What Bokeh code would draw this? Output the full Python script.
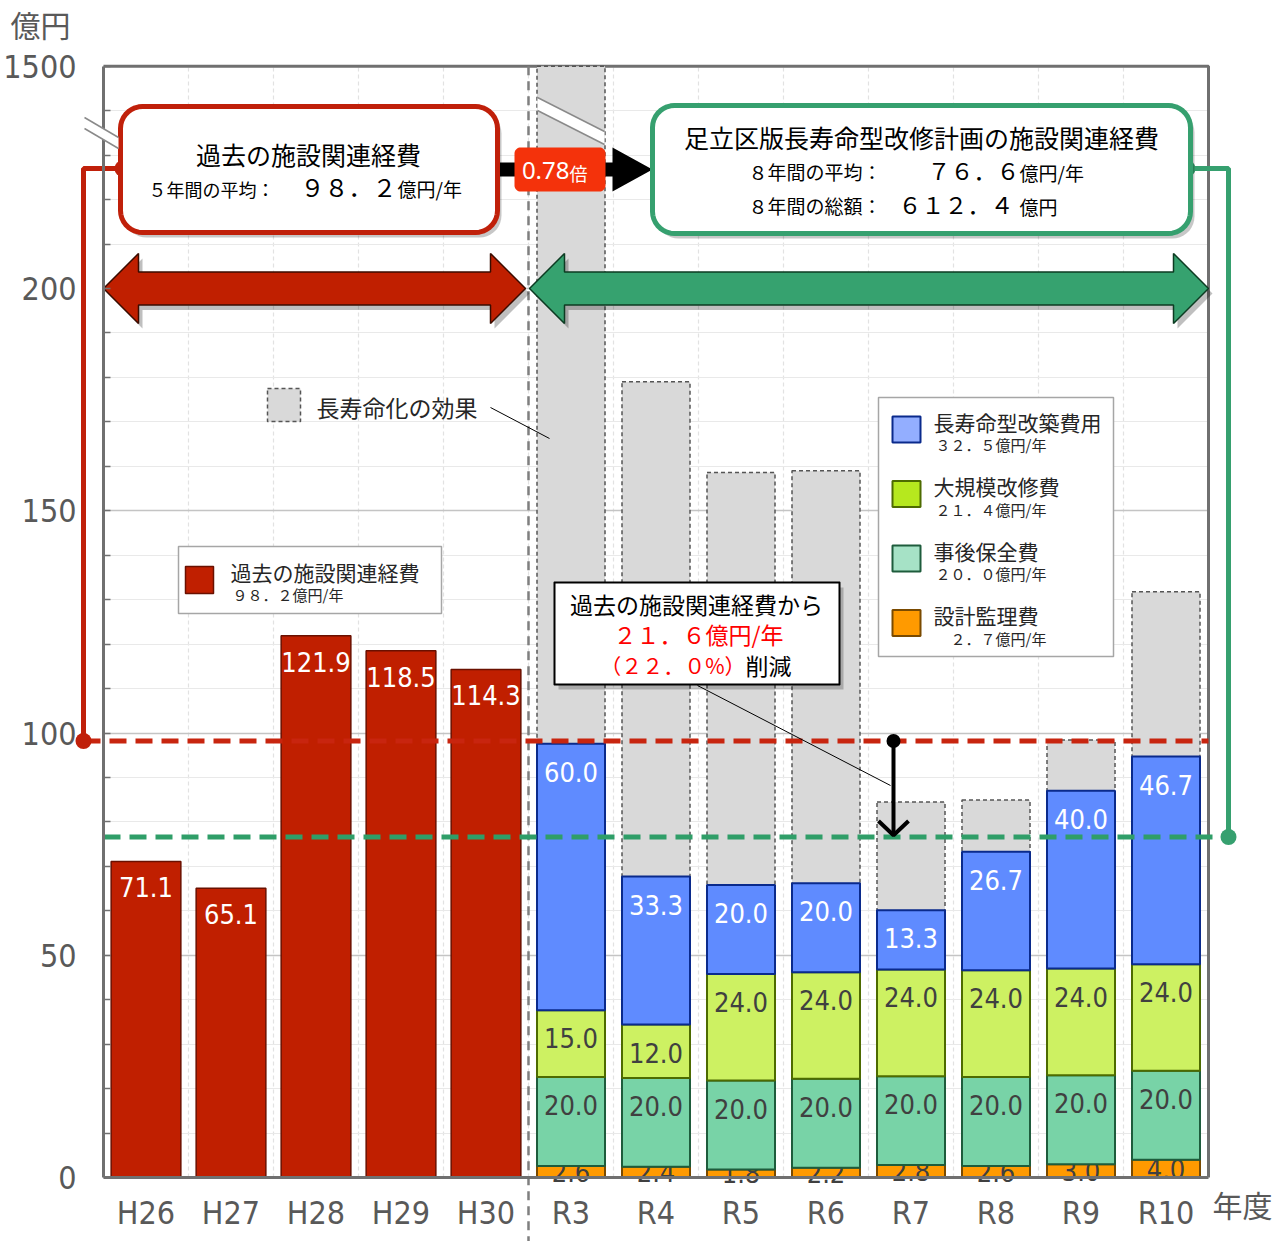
import numpy as np
from bokeh.plotting import figure
from bokeh.models import Range1d, FixedTicker
from bokeh.core.properties import value
from bokeh.embed import file_html
from bokeh.resources import INLINE

# ---------------- data ----------------
years = ["H26", "H27", "H28", "H29", "H30", "R3", "R4", "R5", "R6", "R7", "R8", "R9", "R10"]
past_years = ["H26", "H27", "H28", "H29", "H30"]
past_cost = [71.1, 65.1, 121.9, 118.5, 114.3]
plan_years = ["R3", "R4", "R5", "R6", "R7", "R8", "R9", "R10"]
design_fee = [2.6, 2.4, 1.8, 2.2, 2.8, 2.6, 3.0, 4.0]          # 設計監理費
after_maint = [20.0, 20.0, 20.0, 20.0, 20.0, 20.0, 20.0, 20.0]   # 事後保全費
major_repair = [15.0, 12.0, 24.0, 24.0, 24.0, 24.0, 24.0, 24.0]  # 大規模改修費
rebuild = [60.0, 33.3, 20.0, 20.0, 13.3, 26.7, 40.0, 46.7]       # 長寿命型改築費用
before_life_ext = [1500.0, 179.0, 158.6, 159.0, 84.5, 84.9, 98.4, 131.8]  # 長寿命化の効果 (before)
past_avg = 98.2
plan_avg = 76.6
y_ticks = [0, 50, 100, 150, 200, 250]
y_tick_labels = ["0", "50", "100", "150", "200", "1500"]
y_top = 250
legend_names = ["長寿命型改築費用", "大規模改修費", "事後保全費", "設計監理費"]
legend_avgs = ["３２．５億円/年", "２１．４億円/年", "２０．０億円/年", "　２．７億円/年"]

# ---------------- layout helpers (screenshot pixels -> data) ----------------
W, H = 1284, 1241
OX, OY = 0, 0
X0_PX, X_STEP = 145.5, 85.0
Y0_PX, Y_SCALE = 1177.0, 4.445


def X(px):
    return (px - X0_PX) / X_STEP


def Y(py):
    return (Y0_PX - py) / Y_SCALE


def PY(v):
    return Y0_PX - v * Y_SCALE


JP = "Noto Sans CJK JP"
NUM = "'DejaVu Sans Condensed', 'Liberation Sans Narrow', 'Roboto Condensed', Roboto, sans-serif"
GRAY_TXT = "#595959"
AX = "#707070"

p = figure(width=W, height=H, x_range=Range1d(X(OX), X(OX + W)), y_range=Range1d(Y(OY + H), Y(OY)),
           output_backend="svg", toolbar_location=None, min_border=0,
           min_border_left=0, min_border_right=0, min_border_top=0, min_border_bottom=0)
p.outline_line_color = None
p.background_fill_color = "white"
p.border_fill_color = "white"

left = -0.5
right = len(years) - 0.5

# axes
yax = p.yaxis[0]
yax.fixed_location = left
yax.bounds = (0, y_top)
yax.ticker = FixedTicker(ticks=y_ticks, minor_ticks=[v for v in range(10, y_top, 10) if v % 50])
yax.major_label_overrides = {t: l for t, l in zip(y_ticks, y_tick_labels)}
yax.axis_line_color = AX
yax.axis_line_width = 3
yax.major_tick_in = 7
yax.major_tick_out = 0
yax.minor_tick_in = 7
yax.minor_tick_out = 0
yax.major_tick_line_color = AX
yax.minor_tick_line_color = AX
yax.major_tick_line_width = 1.5
yax.minor_tick_line_width = 1.5
yax.major_label_standoff = 27
yax.major_label_text_font = NUM
yax.major_label_text_font_size = "32px"
yax.major_label_text_color = GRAY_TXT

xax = p.xaxis[0]
xax.fixed_location = 0
xax.bounds = (left, right)
xax.ticker = FixedTicker(ticks=list(range(len(years))), minor_ticks=[])
xax.major_label_overrides = {i: y for i, y in enumerate(years)}
xax.axis_line_color = AX
xax.axis_line_width = 3
xax.major_tick_in = 0
xax.major_tick_out = 0
xax.minor_tick_in = 0
xax.minor_tick_out = 0
xax.major_label_standoff = 16
xax.major_label_text_font = NUM
xax.major_label_text_font_size = "32px"
xax.major_label_text_color = GRAY_TXT

# grids
p.ygrid.ticker = FixedTicker(ticks=[50, 100, 150, 200], minor_ticks=[v for v in range(10, y_top, 10) if v % 50])
p.ygrid.grid_line_color = "#c4c4c4"
p.ygrid.grid_line_width = 1.5
p.ygrid.minor_grid_line_color = "#e9e9e9"
p.ygrid.minor_grid_line_width = 1.2
p.xgrid.ticker = FixedTicker(ticks=[i + 0.5 for i in range(len(years) - 1)], minor_ticks=[])
p.xgrid.grid_line_color = "#e2e2e2"
p.xgrid.grid_line_dash = "4 3"
p.xgrid.grid_line_width = 1.2
try:
    p.ygrid.cross_bounds = (left, right)
    p.xgrid.cross_bounds = (0, y_top)
except Exception:
    pass

# frame top/right
p.line(x=[left, right, right], y=[y_top, y_top, 0], line_color=AX, line_width=3)


def txt(px, py, s, size, color="#000000", align="left", font=JP, baseline="middle"):
    p.text(x=[X(px)], y=[Y(py)], text=[s], text_font=value(font), text_font_size=f"{size}px",
           text_color=color, text_align=align, text_baseline=baseline)


def rrect(x0, y0, x1, y1, r, n=10):
    pts = []
    corners = [(x1 - r, y0 + r, -90, 0), (x1 - r, y1 - r, 0, 90), (x0 + r, y1 - r, 90, 180), (x0 + r, y0 + r, 180, 270)]
    for cx, cy, a0, a1 in corners:
        for a in np.linspace(np.radians(a0), np.radians(a1), n):
            pts.append((cx + r * np.cos(a), cy + r * np.sin(a)))
    return [X(a) for a, b in pts], [Y(b) for a, b in pts]


def box(x0, y0, x1, y1, r, line_color, lw, fill="white", shadow=True):
    if shadow:
        xs, ys = rrect(x0 + 4, y0 + 5, x1 + 4, y1 + 5, r)
        p.patch(xs, ys, fill_color="#000000", fill_alpha=0.22, line_color=None)
    xs, ys = rrect(x0, y0, x1, y1, r)
    p.patch(xs, ys, fill_color=fill, line_color=line_color, line_width=lw)


# ---------------- bars ----------------
past_x = [years.index(y) for y in past_years]
plan_x = [years.index(y) for y in plan_years]

p.vbar(x=plan_x, top=np.minimum(before_life_ext, y_top), bottom=0, width=0.8, fill_color="#D9D9D9",
       line_color="#555555", line_dash="4 3", line_width=1.5)

p.vbar(x=past_x, top=past_cost, width=0.82, fill_color="#C01F00", line_color="#6a1000", line_width=1.5)
p.text(x=past_x, y=past_cost, text=[f"{v:.1f}" for v in past_cost], y_offset=26,
       text_font=value(NUM), text_font_size="27px", text_color="white",
       text_align="center", text_baseline="middle")

layers = [design_fee, after_maint, major_repair, rebuild]
fills = ["#FF9A00", "#78D3A7", "#CDF162", "#5F8BFF"]
lines = ["#7a4a00", "#1e5c3c", "#4d6b00", "#0a2a8c"]
label_colors = ["#404040", "#404040", "#404040", "white"]
bottom = np.zeros(len(plan_years))
for k, (vals, fc, lc, tc) in enumerate(zip(layers, fills, lines, label_colors)):
    vals = np.array(vals)
    top = bottom + vals
    p.vbar(x=plan_x, bottom=bottom, top=top, width=0.8, fill_color=fc, line_color=lc, line_width=2)
    if k == 0:
        p.text(x=plan_x, y=(bottom + top) / 2, text=[f"{v:.1f}" for v in vals],
               text_font=value(NUM), text_font_size="27px", text_color=tc,
               text_align="center", text_baseline="middle")
    else:
        p.text(x=plan_x, y=top, text=[f"{v:.1f}" for v in vals], y_offset=28,
               text_font=value(NUM), text_font_size="27px", text_color=tc,
               text_align="center", text_baseline="middle")
    bottom = top

# separator between past and plan
sep = (past_x[-1] + plan_x[0]) / 2
p.segment(x0=[sep], y0=[y_top], x1=[sep], y1=[Y(OY + H)], line_color="#7f7f7f", line_width=2.5, line_dash="9 6")

# axis break markers
for (x0, y0a, y0b, x1, y1a, y1b, lvl) in [(84, 117, 128, 118, 137, 148, "overlay"),
                                          (537, 97, 110, 604, 131, 144, "glyph")]:
    p.patch([X(x0), X(x1), X(x1), X(x0)], [Y(y0a), Y(y1a), Y(y1b), Y(y0b)], fill_color="white",
            line_color=None, level=lvl)
    p.segment(x0=[X(x0), X(x0)], y0=[Y(y0a), Y(y0b)], x1=[X(x1), X(x1)], y1=[Y(y1a), Y(y1b)],
              line_color="#8a8a8a", line_width=1.5, level=lvl)

# ---------------- average lines & connectors ----------------
p.segment(x0=[X(83)], y0=[past_avg], x1=[right], y1=[past_avg], line_color="#C8250F", line_width=5, line_dash="17 9")
p.segment(x0=[left], y0=[plan_avg], x1=[X(1228)], y1=[plan_avg], line_color="#2F9E68", line_width=5, line_dash="17 9")

p.line(x=[X(122), X(83), X(83)], y=[Y(168), Y(168), past_avg], line_color="#C0200A", line_width=5)
p.scatter(x=[X(122), X(83)], y=[Y(168), past_avg], size=16, fill_color="#C0200A", line_color=None)
p.line(x=[X(1187), X(1228), X(1228)], y=[Y(168), Y(168), plan_avg], line_color="#36A06F", line_width=5)
p.scatter(x=[X(1187), X(1228)], y=[Y(168), plan_avg], size=16, fill_color="#36A06F", line_color=None)

# down arrow (reduction)
ax_ = X(893)
p.line(x=[ax_, ax_], y=[past_avg, plan_avg + 0.4], line_color="black", line_width=4)
p.line(x=[X(878), ax_, X(908)], y=[Y(PY(plan_avg) - 16), plan_avg + 0.4, Y(PY(plan_avg) - 16)],
       line_color="black", line_width=4)
p.scatter(x=[ax_], y=[past_avg], size=14, fill_color="black", line_color=None)


# ---------------- double arrows ----------------
def darrow(xl, xr, yc, fill, line, sh=16.5, hh=35, hl=35):
    pts = [(xl, yc), (xl + hl, yc - hh), (xl + hl, yc - sh), (xr - hl, yc - sh), (xr - hl, yc - hh),
           (xr, yc), (xr - hl, yc + hh), (xr - hl, yc + sh), (xl + hl, yc + sh), (xl + hl, yc + hh)]
    p.patch([X(a + 4) for a, b in pts], [Y(b + 5) for a, b in pts], fill_color="#000000", fill_alpha=0.25, line_color=None)
    p.patch([X(a) for a, b in pts], [Y(b) for a, b in pts], fill_color=fill, line_color=line, line_width=1.5)


darrow(103, 525, 288, "#C01F00", "#3a0c00")
darrow(529, 1208, 288, "#36A26F", "#0d3b22")

# ---------------- header boxes ----------------
arr = [(493, 162), (612, 162), (612, 147), (652, 169), (612, 191), (612, 176), (493, 176)]
p.patch([X(a) for a, b in arr], [Y(b) for a, b in arr], fill_color="black", line_color=None)

box(120, 106, 497, 232, 22, "#C0200A", 5)
txt(308, 153, "過去の施設関連経費", 25, align="center")
txt(148, 188, "５年間の平均：", 18)
txt(300, 186, "９８．２", 24)
txt(397, 188, "億円/年", 19)

xs, ys = rrect(514, 147, 605, 191, 6)
p.patch(xs, ys, fill_color="#F4320B", line_color=None)
txt(569, 170, "0.78", 24, color="white", align="right", font="Noto Sans")
txt(569, 172, "倍", 18, color="white")

box(652, 105, 1190, 233, 22, "#36A06F", 5)
txt(921, 136, "足立区版長寿命型改修計画の施設関連経費", 25, align="center")
txt(748, 171, "８年間の平均：", 19)
txt(927, 169, "７６．６", 23)
txt(1019, 172, "億円/年", 19)
txt(748, 205, "８年間の総額：", 19)
txt(898, 203, "６１２．４", 23)
txt(1019, 206, "億円", 19)

# ---------------- legends ----------------
p.quad(left=[X(267)], right=[X(300)], top=[Y(388)], bottom=[Y(421)], fill_color="#D9D9D9",
       line_color="#555555", line_dash="4 3", line_width=1.5)
txt(316, 406, "長寿命化の効果", 23, color="#262626")
p.line(x=[X(490), X(549)], y=[Y(407), Y(438)], line_color="black", line_width=1)

p.quad(left=[X(178)], right=[X(441)], top=[Y(546)], bottom=[Y(613)], fill_color="white", line_color="#a6a6a6", line_width=1.5)
p.quad(left=[X(185)], right=[X(213)], top=[Y(566)], bottom=[Y(593)], fill_color="#C01F00", line_color="#6a1000", line_width=1.5)
txt(230, 571, "過去の施設関連経費", 21, color="#262626")
txt(232, 594, "９８．２億円/年", 15, color="#262626")

p.quad(left=[X(878)], right=[X(1113)], top=[Y(397)], bottom=[Y(656)], fill_color="white", line_color="#a6a6a6", line_width=1.5)
sw_fill = ["#93AEFF", "#B6E81E", "#A6E2C6", "#FF9A00"]
sw_line = ["#0a2a8c", "#4d6b00", "#1e5c3c", "#7a4a00"]
for i, (nm, av, fc, lc) in enumerate(zip(legend_names, legend_avgs, sw_fill, sw_line)):
    t = 416 + 64.5 * i
    p.quad(left=[X(892)], right=[X(920)], top=[Y(t)], bottom=[Y(t + 26)], fill_color=fc, line_color=lc, line_width=2)
    txt(933, t + 5, nm, 21, color="#262626")
    txt(935, t + 28, av, 15, color="#262626")

# ---------------- callout ----------------
p.line(x=[X(697), X(890)], y=[Y(685), Y(785)], line_color="black", line_width=1)
box(554, 582, 839, 684, 0.01, "black", 2)
txt(696, 603, "過去の施設関連経費から", 23, align="center")
txt(698, 633, "２１．６億円/年", 23, color="#FF0000", align="center")
txt(745, 664, "（２２．０%）", 21, color="#FF0000", align="right")
txt(745, 664, "削減", 23)

# ---------------- axis titles ----------------
txt(40, 23, "億円", 30, color=GRAY_TXT, align="center")
txt(1242, 1203, "年度", 30, color=GRAY_TXT, align="center")

open("out.html", "w").write(file_html(p, INLINE))
